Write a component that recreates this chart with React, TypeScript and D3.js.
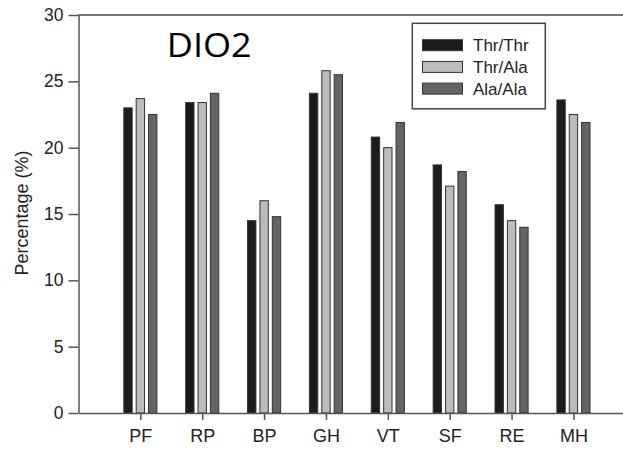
import React, { useEffect, useRef } from 'react';
import * as d3 from 'd3';

const categories = ['PF', 'RP', 'BP', 'GH', 'VT', 'SF', 'RE', 'MH'];
const seriesNames = ['Thr/Thr', 'Thr/Ala', 'Ala/Ala'];
const thrThr = [23.0, 23.4, 14.5, 24.1, 20.8, 18.7, 15.7, 23.6];
const thrAla = [23.7, 23.4, 16.0, 25.8, 20.0, 17.1, 14.5, 22.5];
const alaAla = [22.5, 24.1, 14.8, 25.5, 21.9, 18.2, 14.0, 21.9];
const yTicks = [0, 5, 10, 15, 20, 25, 30];

const fills = ['#1c1c1c', '#bcbcbc', '#646464'];

export default function App() {
  const svgRef = useRef<SVGSVGElement>(null);

  useEffect(() => {
    if (!svgRef.current) return;
    const svg = d3.select(svgRef.current);
    svg.selectAll('*').remove();

    const font = 'Liberation Sans, Arial, sans-serif';
    const series = [thrThr, thrAla, alaAla];

    // category i sits at i+1 on a 0..9 axis, the frame runs off the right edge
    const x = d3.scaleLinear().domain([0, 9]).range([78.5, 635.3]);
    const y = d3.scaleLinear().domain([0, 30]).range([413, 15]);
    const offset = 0.2;
    const barW = x(0.135) - x(0);

    // top frame line
    svg.append('line')
      .attr('x1', 78).attr('x2', 623)
      .attr('y1', y(30)).attr('y2', y(30))
      .attr('stroke', '#777').attr('stroke-width', 2);

    // bars
    series.forEach((vals, j) => {
      svg.append('g')
        .selectAll('rect')
        .data(vals)
        .enter().append('rect')
        .attr('x', (d, i) => x(i + 1 + (j - 1) * offset) - barW / 2)
        .attr('y', d => y(d))
        .attr('width', barW)
        .attr('height', d => y(0) - y(d))
        .attr('fill', fills[j])
        .attr('stroke', '#333')
        .attr('stroke-width', 1);
    });

    // y axis
    const yAxis = svg.append('g')
      .attr('transform', `translate(${x(0)},0)`)
      .call(d3.axisLeft(y).tickValues(yTicks).tickSize(10).tickPadding(5).tickSizeOuter(0));
    yAxis.select('.domain').attr('stroke', '#555').attr('stroke-width', 1.5);
    yAxis.selectAll('.tick line').attr('stroke', '#555').attr('stroke-width', 1.5);
    yAxis.selectAll('text')
      .attr('fill', '#222')
      .style('font-family', font)
      .style('font-size', '17.5px');

    // x axis
    const xAxis = svg.append('g')
      .attr('transform', `translate(0,${y(0)})`)
      .call(d3.axisBottom(x)
        .tickValues(categories.map((c, i) => i + 1))
        .tickFormat((d, i) => categories[i])
        .tickSize(7).tickPadding(9).tickSizeOuter(0));
    xAxis.select('.domain').attr('stroke', '#555').attr('stroke-width', 1.5);
    xAxis.selectAll('.tick line').attr('stroke', '#555').attr('stroke-width', 1.5);
    xAxis.selectAll('text')
      .attr('fill', '#222')
      .style('font-family', font)
      .style('font-size', '18px');

    // y label
    svg.append('text')
      .attr('transform', 'rotate(-90)')
      .attr('x', -213)
      .attr('y', 27.5)
      .attr('text-anchor', 'middle')
      .attr('fill', '#222')
      .style('font-family', font)
      .style('font-size', '18px')
      .text('Percentage (%)');

    // title
    svg.append('text')
      .attr('x', 166.7)
      .attr('y', 56.7)
      .attr('textLength', 85)
      .attr('lengthAdjust', 'spacingAndGlyphs')
      .attr('fill', '#000')
      .style('font-family', 'Open Sans, sans-serif')
      .style('font-size', '33px')
      .text('DIO2');

    // legend
    const lg = svg.append('g');
    lg.append('rect')
      .attr('x', 412.3).attr('y', 23.3)
      .attr('width', 133).attr('height', 85.5)
      .attr('fill', '#fff').attr('stroke', '#444').attr('stroke-width', 1.5);
    seriesNames.forEach((name, j) => {
      const cy = 45.2 + j * 21.7;
      lg.append('rect')
        .attr('x', 422.5).attr('y', cy - 5.5)
        .attr('width', 40).attr('height', 11)
        .attr('fill', fills[j]).attr('stroke', '#333').attr('stroke-width', 1);
      lg.append('text')
        .attr('x', 473).attr('y', cy)
        .attr('dy', '0.36em')
        .attr('fill', '#222')
        .style('font-family', font)
        .style('font-size', '17px')
        .text(name);
    });
  }, []);

  return (
    <div style={{ position: 'absolute', left: 0, top: 0, background: '#fff' }}>
      <svg ref={svgRef} width={623} height={451} style={{ display: 'block' }} />
    </div>
  );
}
